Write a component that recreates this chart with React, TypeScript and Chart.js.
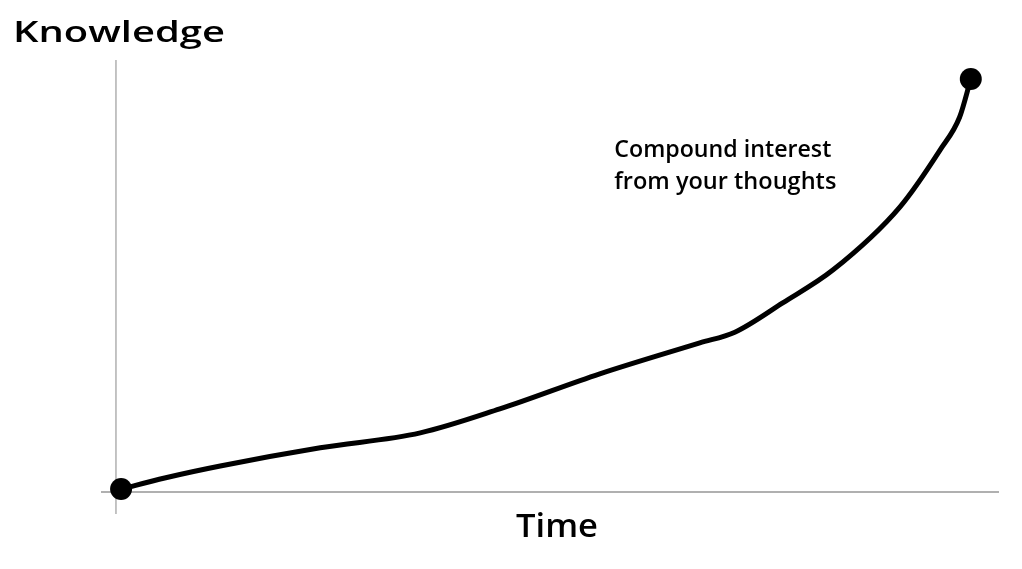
import React, { useEffect, useRef } from "react";
import { Chart, registerables } from "chart.js";

Chart.register(...registerables);

// Knowledge over time (data units: x 0..100 time, y 0..100 knowledge)
const timeValues: number[] = [0.6, 5.7, 12.2, 23.9, 35.6, 44.9, 56.6, 68.3, 72.4, 78.0, 83.9, 91.7, 96.4, 98.7, 100];
const knowledgeValues: number[] = [0.7, 3.4, 6.3, 10.7, 14.3, 20.1, 28.6, 36.1, 38.7, 45.8, 53.8, 69.0, 82.8, 90.8, 100];

const yTitle = "Knowledge";
const xTitle = "Time";
const annotationLines: string[] = ["Compound interest", "from your thoughts"];
const annotationAt = { x: 58.3, y: 81.1 };

const FONT = "'Open Sans', 'Noto Sans', sans-serif";

function fitText(ctx: CanvasRenderingContext2D, text: string, x: number, y: number, width: number, font: string) {
  ctx.save();
  ctx.font = font;
  const w = ctx.measureText(text).width;
  const s = width / w;
  ctx.translate(x, y);
  ctx.scale(s, 1);
  ctx.textAlign = "left";
  ctx.textBaseline = "alphabetic";
  ctx.fillStyle = "#000";
  ctx.fillText(text, 0, 0);
  ctx.restore();
}

const decorPlugin = {
  id: "decor",
  beforeDatasetsDraw(chart: any) {
    const { ctx, chartArea, scales } = chart;
    const x0 = scales.x.getPixelForValue(0);
    const y0 = scales.y.getPixelForValue(0);
    ctx.save();
    ctx.strokeStyle = "#b0b0b0";
    ctx.lineWidth = 1.5;
    ctx.beginPath();
    ctx.moveTo(x0, chartArea.top);
    ctx.lineTo(x0, chartArea.bottom);
    ctx.stroke();
    ctx.lineWidth = 2;
    ctx.beginPath();
    ctx.moveTo(chartArea.left, y0);
    ctx.lineTo(chartArea.right, y0);
    ctx.stroke();
    ctx.restore();
  },
  afterDraw(chart: any) {
    const { ctx, scales } = chart;
    fitText(ctx, yTitle, 13, 42, 212, `600 29px ${FONT}`);
    fitText(ctx, xTitle, 516, 537, 82, `600 32px ${FONT}`);
    const ax = scales.x.getPixelForValue(annotationAt.x);
    const ay = scales.y.getPixelForValue(annotationAt.y);
    fitText(ctx, annotationLines[0], ax, ay, 217, `600 24px ${FONT}`);
    fitText(ctx, annotationLines[1], ax, ay + 32, 222, `600 24px ${FONT}`);
  },
};

export default function App() {
  const ref = useRef<HTMLCanvasElement | null>(null);
  useEffect(() => {
    if (!ref.current) return;
    const n = timeValues.length;
    const radii = timeValues.map((_, i) => (i === 0 || i === n - 1 ? 11 : 0));
    const chart = new Chart(ref.current, {
      type: "line",
      data: {
        datasets: [
          {
            data: timeValues.map((x, i) => ({ x, y: knowledgeValues[i] })),
            borderColor: "#000",
            backgroundColor: "#000",
            borderWidth: 5,
            borderCapStyle: "round",
            borderJoinStyle: "round",
            pointRadius: radii,
            pointHoverRadius: radii,
            pointBackgroundColor: "#000",
            pointBorderWidth: 0,
            cubicInterpolationMode: "monotone",
            fill: false,
          },
        ],
      },
      options: {
        animation: false,
        responsive: false,
        maintainAspectRatio: false,
        layout: { padding: { left: 101, right: 23, top: 60, bottom: 55 } },
        plugins: { legend: { display: false }, tooltip: { enabled: false } },
        scales: {
          x: { type: "linear", min: -1.75, max: 103.3, display: false },
          y: { type: "linear", min: -5.33, max: 104.6, display: false },
        },
      },
      plugins: [decorPlugin],
    });
    return () => chart.destroy();
  }, []);
  return (
    <div style={{ position: "fixed", left: 0, top: 0, width: 1022, height: 569, background: "#fff" }}>
      <canvas ref={ref} width={1022} height={569} style={{ width: 1022, height: 569, display: "block" }} />
    </div>
  );
}
